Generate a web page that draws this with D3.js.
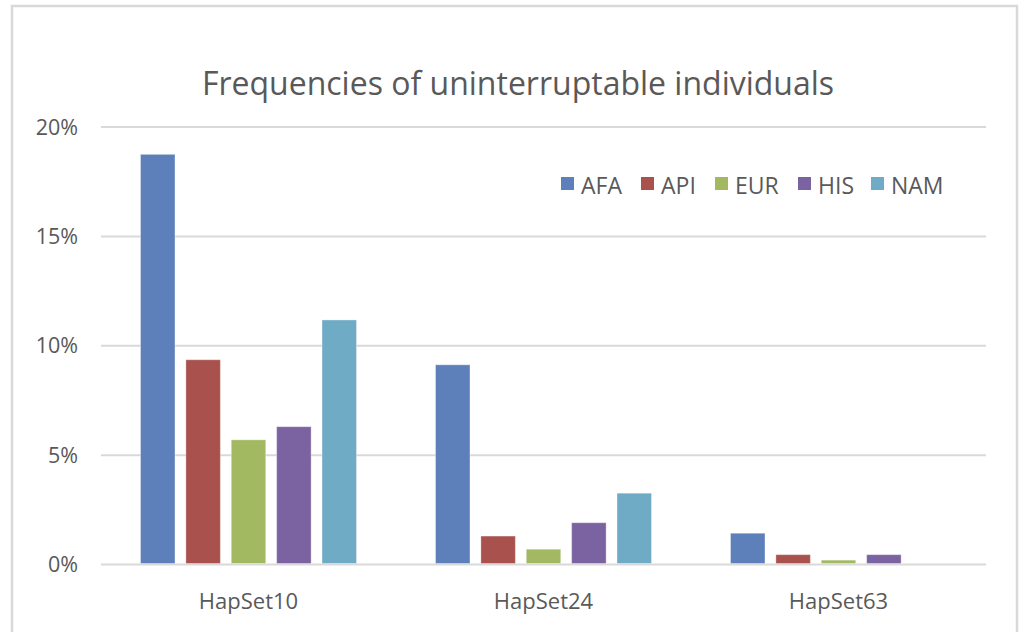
<!DOCTYPE html>
<html>
<head>
<meta charset="utf-8">
<script src="https://cdn.jsdelivr.net/npm/d3@7"></script>
<style>
  body { margin: 0; background: #fff; }
  text { font-family: "Open Sans", sans-serif; fill: #595959; }
</style>
</head>
<body>
<script>
// data (percent)
var categories = ["HapSet10", "HapSet24", "HapSet63"];
var seriesNames = ["AFA", "API", "EUR", "HIS", "NAM"];
var seriesColors = ["#5e80ba", "#a8514d", "#a3b961", "#7a63a0", "#70abc6"];
var AFA = [18.75, 9.13, 1.43];
var API = [9.36, 1.30, 0.45];
var EUR = [5.70, 0.70, 0.20];
var HIS = [6.30, 1.91, 0.45];
var NAM = [11.18, 3.26, 0];
var yTicks = [0, 5, 10, 15, 20];

var values = [AFA, API, EUR, HIS, NAM];

var width = 1021, height = 632;
var svg = d3.select("body").append("svg")
    .attr("width", width)
    .attr("height", height);

// chart border
svg.append("rect")
    .attr("x", 12).attr("y", 6)
    .attr("width", 1005).attr("height", 640)
    .attr("fill", "none")
    .attr("stroke", "#d9d9d9")
    .attr("stroke-width", 2.5);

var plotLeft = 101, plotRight = 986, plotTop = 127, plotBottom = 564.5;

var y = d3.scaleLinear().domain([0, 20]).range([plotBottom, plotTop]);
var x0 = d3.scaleBand().domain(categories).range([plotLeft, plotRight]);
var groupW = 216;
var x1 = d3.scaleBand().domain(seriesNames).range([0, groupW]).paddingInner(0.24);

// gridlines
svg.append("g")
    .selectAll("line")
    .data(yTicks)
    .enter().append("line")
    .attr("x1", plotLeft).attr("x2", plotRight)
    .attr("y1", function(d) { return y(d); })
    .attr("y2", function(d) { return y(d); })
    .attr("stroke", "#d9d9d9")
    .attr("stroke-width", 2);

// y tick labels
svg.append("g")
    .selectAll("text")
    .data(yTicks)
    .enter().append("text")
    .attr("x", 78)
    .attr("y", function(d) { return y(d); })
    .attr("dy", "0.36em")
    .attr("text-anchor", "end")
    .style("font-size", "21.5px")
    .text(function(d) { return d + "%"; });

// bars
var groups = svg.append("g")
    .selectAll("g")
    .data(categories)
    .enter().append("g")
    .attr("transform", function(d) {
        return "translate(" + (x0(d) + (x0.bandwidth() - groupW) / 2) + ",0)";
    });

groups.selectAll("rect")
    .data(function(c, ci) {
        return seriesNames.map(function(s, si) {
            return { s: s, v: values[si][ci], color: seriesColors[si] };
        });
    })
    .enter().append("rect")
    .filter(function(d) { return d.v > 0; })
    .attr("x", function(d) { return x1(d.s); })
    .attr("width", x1.bandwidth())
    .attr("y", function(d) { return y(d.v); })
    .attr("height", function(d) { return plotBottom - 1 - y(d.v); })
    .attr("fill", function(d) { return d.color; })
    .attr("stroke", "#ffffff")
    .attr("stroke-opacity", 0.35)
    .attr("stroke-width", 1);

// category labels
svg.append("g")
    .selectAll("text")
    .data(categories)
    .enter().append("text")
    .attr("x", function(d) { return x0(d) + x0.bandwidth() / 2; })
    .attr("y", 608.5)
    .attr("text-anchor", "middle")
    .style("font-size", "22px")
    .text(function(d) { return d; });

// title
svg.append("text")
    .attr("x", 518)
    .attr("y", 95)
    .attr("text-anchor", "middle")
    .style("font-size", "32px")
    .text("Frequencies of uninterruptable individuals");

// legend
var legendX = [561, 641, 715, 798, 871];
var legend = svg.append("g")
    .selectAll("g")
    .data(seriesNames)
    .enter().append("g")
    .attr("transform", function(d, i) { return "translate(" + legendX[i] + ",177)"; });

legend.append("rect")
    .attr("width", 13).attr("height", 13)
    .attr("fill", function(d, i) { return seriesColors[i]; });

legend.append("text")
    .attr("x", 20)
    .attr("y", 16.5)
    .style("font-size", "23px")
    .text(function(d) { return d; });
</script>
</body>
</html>
